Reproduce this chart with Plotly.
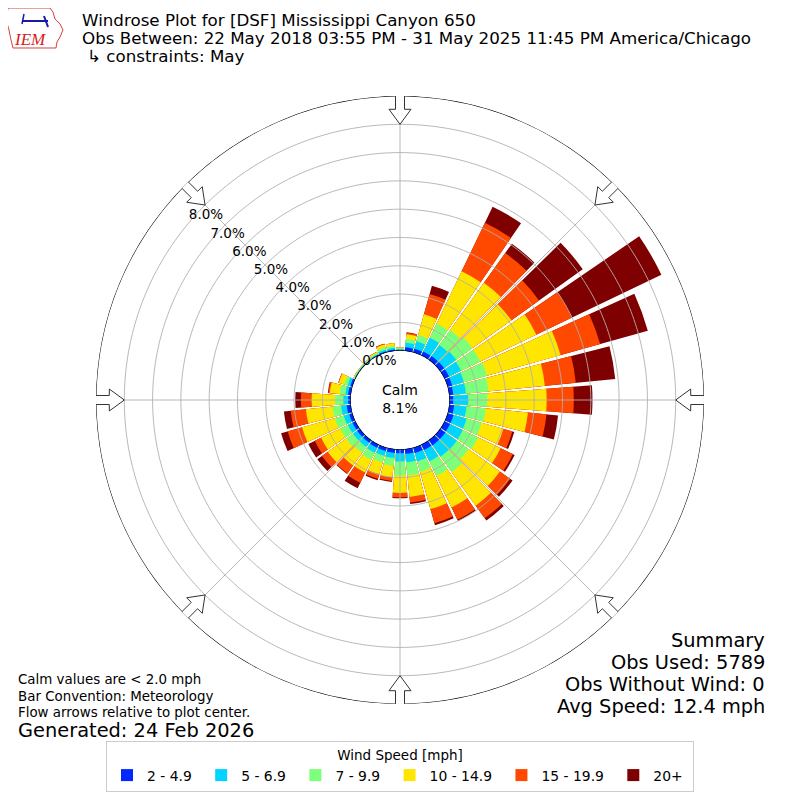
import numpy as np
import plotly.graph_objects as go

# wind direction bins (degrees, direction wind blows from)
directions = list(range(0, 360, 10))

# cumulative frequency [%] up to the top of each speed class, per direction
upto_4_9 = [0.03, 0.13, 0.14, 0.16, 0.17, 0.18, 0.18, 0.17, 0.15, 0.14, 0.18, 0.22,
            0.22, 0.23, 0.23, 0.22, 0.20, 0.17, 0.14, 0.14, 0.13, 0.13, 0.12, 0.12,
            0.12, 0.12, 0.15, 0.09, 0.10, 0.08, 0.02, 0.02, 0.02, 0.03, 0.05, 0.05]
upto_6_9 = [0.06, 0.29, 0.41, 0.70, 0.65, 0.70, 0.65, 0.60, 0.60, 0.67, 0.62, 0.70,
            0.72, 0.73, 0.72, 0.66, 0.51, 0.47, 0.43, 0.32, 0.30, 0.32, 0.30, 0.30,
            0.30, 0.32, 0.35, 0.26, 0.20, 0.18, 0.04, 0.04, 0.04, 0.06, 0.11, 0.11]
upto_9_9 = [0.09, 0.43, 0.64, 1.25, 1.30, 1.40, 1.40, 1.45, 1.40, 1.34, 1.30, 1.25,
            1.32, 1.24, 1.39, 1.23, 0.90, 0.94, 0.93, 0.60, 0.55, 0.60, 0.55, 0.60,
            0.60, 0.65, 0.65, 0.55, 0.40, 0.30, 0.06, 0.06, 0.06, 0.10, 0.19, 0.18]
upto_14_9 = [0.12, 0.59, 1.40, 3.30, 3.35, 3.10, 3.60, 4.15, 3.40, 3.44, 2.80, 2.05,
             2.20, 2.60, 2.85, 2.47, 2.26, 1.70, 1.54, 1.00, 0.98, 1.10, 1.10, 1.40,
             1.35, 1.85, 1.60, 1.38, 0.75, 0.50, 0.08, 0.07, 0.08, 0.14, 0.29, 0.28]
upto_19_9 = [0.12, 0.65, 2.15, 5.20, 4.65, 4.30, 5.00, 5.60, 4.50, 4.40, 3.46, 2.38,
             2.68, 3.05, 3.40, 2.95, 2.78, 1.90, 1.70, 1.13, 1.15, 1.50, 1.45, 1.65,
             1.60, 2.38, 2.14, 1.76, 0.80, 0.52, 0.08, 0.07, 0.08, 0.15, 0.32, 0.28]
upto_all = [0.12, 0.66, 2.45, 5.83, 5.05, 6.20, 8.50, 7.35, 5.90, 5.06, 3.87, 2.45,
            2.75, 3.15, 3.50, 3.00, 2.85, 1.95, 1.73, 1.17, 1.20, 1.72, 1.47, 1.85,
            1.85, 2.62, 2.38, 1.96, 0.82, 0.52, 0.08, 0.07, 0.08, 0.15, 0.32, 0.28]

speed_labels = ["2 - 4.9", "5 - 6.9", "7 - 9.9", "10 - 14.9", "15 - 19.9", "20+"]
speed_colors = ["#0028ff", "#00d4ff", "#7cff7a", "#ffe600", "#ff4800", "#7f0000"]

ring_values = [1, 2, 3, 4, 5, 6, 7, 8]
compass_angles = [0, 45, 90, 135, 180, 225, 270, 315]
compass_labels = ["N", "NE", "E", "SE", "S", "SW", "W", "NW"]

calm_pct = 8.1
obs_used = 5789
obs_no_wind = 0
avg_speed = 12.4

# page geometry: the plot div sits 8px in from the page corner
OFF = 8
W = 800 - OFF
R_PX = 304.0
HOLE_PX = 49.3
R_MAX = 9.0
PX_PER_PCT = (R_PX - HOLE_PX) / R_MAX
FONT = "DejaVu Sans"


def px_x(x):
    return (x - OFF) / W


def px_y(y):
    return 1 - (y - OFF) / W


fig = go.Figure()

# overlaid cumulative bars, longest first
cumulative = [upto_4_9, upto_6_9, upto_9_9, upto_14_9, upto_19_9, upto_all]
for vals, lab, col in reversed(list(zip(cumulative, speed_labels, speed_colors))):
    fig.add_trace(go.Barpolar(r=vals, theta=directions, width=8.8,
                              name=lab + "\u00a0",
                              marker=dict(color=col, line=dict(width=0)),
                              hoverinfo="skip"))

# grid drawn on top of the bars (like the original)
circle_theta = list(range(0, 361))
for k in ring_values:
    fig.add_trace(go.Scatterpolar(r=[k] * len(circle_theta), theta=circle_theta, mode="lines",
                                  line=dict(color="#b0b0b0", width=0.9),
                                  showlegend=False, hoverinfo="skip"))
for a in compass_angles:
    fig.add_trace(go.Scatterpolar(r=[0, R_MAX], theta=[a, a], mode="lines",
                                  line=dict(color="#b0b0b0", width=0.9),
                                  showlegend=False, hoverinfo="skip"))
for k in [0, R_MAX]:
    fig.add_trace(go.Scatterpolar(r=[k] * len(circle_theta), theta=circle_theta, mode="lines",
                                  line=dict(color="black", width=1.1),
                                  showlegend=False, hoverinfo="skip", cliponaxis=False))


# hollow flow arrows at the eight compass points
def arrow_outline(direction):
    tip = HOLE_PX + 8 * PX_PER_PCT
    pts = [(tip + 30, -4.5), (tip + 15, -4.5), (tip + 15, -11), (tip, 0),
           (tip + 15, 11), (tip + 15, 4.5), (tip + 30, 4.5), (tip + 30, -4.5)]
    rr, tt = [], []
    for d, w in pts:
        rr.append((np.hypot(d, w) - HOLE_PX) / PX_PER_PCT)
        tt.append(direction + np.degrees(np.arctan2(w, d)))
    return rr, tt


for a in compass_angles:
    rr, tt = arrow_outline(a)
    fig.add_trace(go.Scatterpolar(r=rr, theta=tt, mode="lines", fill="toself",
                                  fillcolor="white", line=dict(color="#333333", width=1),
                                  showlegend=False, hoverinfo="skip", cliponaxis=False))

# compass labels and radial labels
label_r = (323 - HOLE_PX) / PX_PER_PCT
fig.add_trace(go.Scatterpolar(r=[label_r] * len(compass_angles), theta=compass_angles,
                              mode="text", text=compass_labels,
                              textfont=dict(family=FONT, size=13.5, color="black"),
                              showlegend=False, hoverinfo="skip", cliponaxis=False))
fig.add_trace(go.Scatterpolar(r=[0] + ring_values, theta=[310] * 9, mode="text",
                              text=["%.1f%%" % v for v in [0] + ring_values],
                              textposition="top right",
                              textfont=dict(family=FONT, size=13.5, color="black"),
                              showlegend=False, hoverinfo="skip", cliponaxis=False))

fig.update_layout(
    width=W, height=W,
    margin=dict(l=0, r=0, t=0, b=0),
    paper_bgcolor="white",
    font=dict(family=FONT, color="black"),
    polar=dict(
        domain=dict(x=[px_x(400 - R_PX), px_x(400 + R_PX)],
                    y=[px_y(400 + R_PX), px_y(400 - R_PX)]),
        hole=HOLE_PX / R_PX,
        barmode="overlay",
        bgcolor="white",
        radialaxis=dict(range=[0, R_MAX], showgrid=False, showline=False,
                        showticklabels=False, ticks=""),
        angularaxis=dict(rotation=90, direction="clockwise", showgrid=False,
                         showline=False, showticklabels=False, ticks=""),
    ),
    legend=dict(orientation="h", x=px_x(400), xanchor="center", y=px_y(741),
                yanchor="top", traceorder="reversed",
                title=dict(text="Wind Speed [mph]", side="top center",
                           font=dict(family=FONT, size=13.5)),
                font=dict(family=FONT, size=13.9),
                bordercolor="#cccccc", borderwidth=1, bgcolor="white"),
)


def px_ann(x, y, text, size, anchor="left", color="black", family=FONT):
    fig.add_annotation(x=px_x(x), y=px_y(y), xref="paper", yref="paper",
                       text=text, showarrow=False, xanchor=anchor, yanchor="middle",
                       font=dict(family=family, size=size, color=color))


# title block
px_ann(80, 20, "Windrose Plot for [DSF] Mississippi Canyon 650", 16.7)
px_ann(80, 38, "Obs Between: 22 May 2018 03:55 PM - 31 May 2025 11:45 PM America/Chicago", 16.7)
px_ann(85, 56, "↳ constraints: May", 16.7)

# calm in the centre
px_ann(400, 399, "Calm<br>%.1f%%" % calm_pct, 14, anchor="center")

# summary
px_ann(767, 640, "Summary", 19.4, anchor="right")
px_ann(767, 662, "Obs Used: %d" % obs_used, 19.4, anchor="right")
px_ann(767, 684, "Obs Without Wind: %d" % obs_no_wind, 19.4, anchor="right")
px_ann(767, 706, "Avg Speed: %.1f mph" % avg_speed, 19.4, anchor="right")

# notes
px_ann(16, 679, "Calm values are < 2.0 mph", 13.4)
px_ann(16, 696, "Bar Convention: Meteorology", 13.4)
px_ann(16, 712, "Flow arrows relative to plot center.", 13.4)
px_ann(16, 730, "Generated: 24 Feb 2026", 19.4)

# simple IEM logo
iowa = [(8, 8), (50, 8), (53, 12), (55, 19), (60, 24), (63, 30), (60, 37),
        (57, 42), (56, 48), (13, 48), (11, 40), (9, 30), (6, 20), (8, 8)]
path = "M " + " L ".join("%.4f,%.4f" % (px_x(x), px_y(y)) for x, y in iowa) + " Z"
fig.add_shape(type="path", path=path, xref="paper", yref="paper",
              line=dict(color="#d94040", width=1))
for (x0, y0, x1, y1, lw) in [(22, 21, 48, 21, 2), (24, 14, 22, 24, 1.5), (44, 16, 48, 27, 2)]:
    fig.add_shape(type="line", xref="paper", yref="paper", x0=px_x(x0), x1=px_x(x1),
                  y0=px_y(y0), y1=px_y(y1), line=dict(color="#1a1aa0", width=lw))
px_ann(30, 39, "<i>IEM</i>", 17, anchor="center", color="#d42020", family="Liberation Serif")

fig.write_html("out.html")
